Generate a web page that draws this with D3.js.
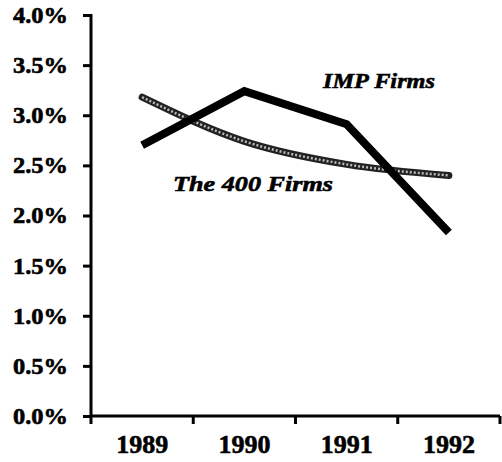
<!DOCTYPE html>
<html>
<head>
<meta charset="utf-8">
<script src="https://cdn.jsdelivr.net/npm/d3@7"></script>
<style>
body { margin: 0; background: #fff; }
text { font-family: "Liberation Serif", "Times New Roman", serif; font-weight: bold; stroke: #000; stroke-width: 0.6px; }
</style>
</head>
<body>
<div id="chart"></div>
<script>
var years = ['1989', '1990', '1991', '1992'];
var impFirms = [2.70, 3.24, 2.91, 1.83];
var the400Firms = [3.18, 2.74, 2.51, 2.40];
var yTicks = [0, 0.5, 1.0, 1.5, 2.0, 2.5, 3.0, 3.5, 4.0];

var width = 502, height = 462;
var margin = {top: 15, right: 2, bottom: 46, left: 91};

var svg = d3.select('#chart').append('svg')
	.attr('width', width)
	.attr('height', height);

var x = d3.scaleBand()
	.domain(years)
	.range([margin.left, width - margin.right]);

var y = d3.scaleLinear()
	.domain([0, 4])
	.range([height - margin.bottom, margin.top]);

// y axis
var yAxis = svg.append('g')
	.attr('transform', 'translate(' + margin.left + ',0)')
	.call(d3.axisLeft(y).tickValues(yTicks).tickSize(8).tickPadding(15)
		.tickFormat(function(d) { return d3.format('.1f')(d) + '%'; }));
yAxis.select('.domain').attr('stroke-width', 3).attr('d', 'M0,' + (margin.top - 1) + 'V' + (height - margin.bottom));
yAxis.selectAll('.tick line').attr('stroke-width', 3);
yAxis.selectAll('.tick text').attr('font-size', 23).attr('fill', '#000')
	.attr('textLength', 55).attr('lengthAdjust', 'spacingAndGlyphs');

// x axis with boundary ticks
var xAxis = svg.append('g')
	.attr('transform', 'translate(0,' + (height - margin.bottom) + ')');
xAxis.append('line')
	.attr('x1', margin.left).attr('x2', width - margin.right)
	.attr('stroke', '#000').attr('stroke-width', 3);
var bounds = years.map(function(d) { return x(d); }).concat([x(years[3]) + x.bandwidth()]);
xAxis.selectAll('.xt').data(bounds).enter().append('line')
	.attr('x1', function(d) { return d; }).attr('x2', function(d) { return d; })
	.attr('y1', 0).attr('y2', 8)
	.attr('stroke', '#000').attr('stroke-width', 3);
xAxis.selectAll('.xl').data(years).enter().append('text')
	.attr('x', function(d) { return x(d) + x.bandwidth() / 2; })
	.attr('y', 37)
	.attr('text-anchor', 'middle')
	.attr('font-size', 26)
	.text(function(d) { return d; });

var cx = function(i) { return x(years[i]) + x.bandwidth() / 2; };

// The 400 Firms - textured dotted curve
var line400 = d3.line()
	.x(function(d, i) { return cx(i); })
	.y(function(d) { return y(d); })
	.curve(d3.curveMonotoneX);
svg.append('path').datum(the400Firms)
	.attr('d', line400).attr('fill', 'none')
	.attr('stroke', '#222').attr('stroke-width', 7).attr('stroke-linecap', 'round');
svg.append('path').datum(the400Firms)
	.attr('d', line400).attr('fill', 'none')
	.attr('stroke', '#bbb').attr('stroke-width', 2.5).attr('stroke-dasharray', '2 2');

// IMP Firms - thick black line
var lineImp = d3.line()
	.x(function(d, i) { return cx(i); })
	.y(function(d) { return y(d); });
svg.append('path').datum(impFirms)
	.attr('d', lineImp).attr('fill', 'none')
	.attr('stroke', '#000').attr('stroke-width', 8).attr('stroke-linejoin', 'miter');

// labels
svg.append('text')
	.attr('x', 323).attr('y', 88)
	.attr('font-size', 22).attr('font-style', 'italic')
	.attr('textLength', 112).attr('lengthAdjust', 'spacingAndGlyphs')
	.text('IMP Firms');
svg.append('text')
	.attr('x', 173).attr('y', 191)
	.attr('font-size', 22).attr('font-style', 'italic')
	.attr('textLength', 160).attr('lengthAdjust', 'spacingAndGlyphs')
	.text('The 400 Firms');
</script>
</body>
</html>
